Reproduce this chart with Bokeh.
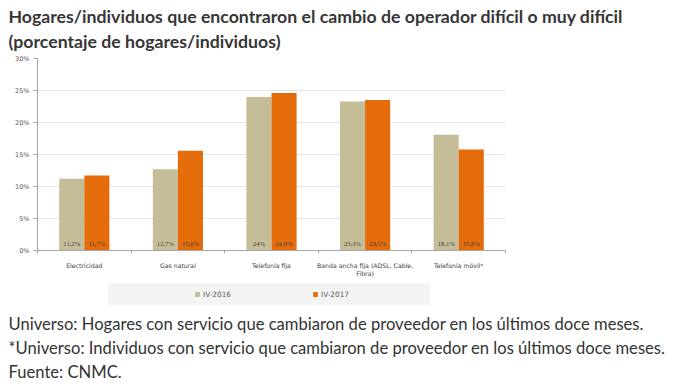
from bokeh.plotting import figure
from bokeh.layouts import column
from bokeh.models import (ColumnDataSource, FixedTicker, LabelSet, Label, Legend,
                          LegendItem, Range1d, CustomJSTickFormatter)
from bokeh.embed import file_html
from bokeh.resources import INLINE

categories = ["Electricidad", "Gas natural", "Telefonía fija",
              "Banda ancha fija (ADSL, Cable,\nFibra)", "Telefonía móvil*"]
series_names = ["IV-2016", "IV-2017"]
values_2016 = [11.2, 12.7, 24.0, 23.3, 18.1]
values_2017 = [11.7, 15.6, 24.6, 23.5, 15.8]
y_ticks = [0, 5, 10, 15, 20, 25, 30]

title_lines = ["Hogares/individuos que encontraron el cambio de operador difícil o muy difícil",
               "(porcentaje de hogares/individuos)"]
footer_lines = ["Universo: Hogares con servicio que cambiaron de proveedor en los últimos doce meses.",
                "*Universo: Individuos con servicio que cambiaron de proveedor en los últimos doce meses.",
                "Fuente: CNMC."]

C16 = "#c4bd97"
C17 = "#e46c0a"
BAR_W = 0.268
W = 688
FRAME_L = 37
FRAME_R = 505
HA, HB, HC = 51, 228, 106   # title strip, chart, legend+footer


def fmt(v):
    s = ("%.1f" % v).replace(".", ",")
    if s.endswith(",0"):
        s = s[:-2]
    return s + "%"


def text_strip(h):
    f = figure(width=W, height=h, output_backend="svg", toolbar_location=None,
               x_range=Range1d(0, W), y_range=Range1d(0, h),
               x_axis_type=None, y_axis_type=None, frame_align=False,
               min_border_left=0, min_border_right=0, min_border_top=0, min_border_bottom=0)
    f.outline_line_color = None
    f.grid.visible = False
    return f


# ---- title strip
pa = text_strip(HA)
for i, t in enumerate(title_lines):
    pa.add_layout(Label(x=8, y=HA - 16 - 25 * i, text=t, text_font="Lato",
                        text_font_style="bold", text_font_size="17.7px",
                        text_color="#363636", text_baseline="middle"))

# ---- chart
n = len(categories)
centers = [i + 0.5 for i in range(n)]
src16 = ColumnDataSource(dict(x=[c - BAR_W / 2 for c in centers], top=values_2016,
                              lbl=[fmt(v) for v in values_2016]))
src17 = ColumnDataSource(dict(x=[c + BAR_W / 2 for c in centers], top=values_2017,
                              lbl=[fmt(v) for v in values_2017]))

p = figure(width=W, height=HB, output_backend="svg", toolbar_location=None,
           x_range=Range1d(0, n), y_range=Range1d(0, 30), frame_align=False,
           min_border_left=FRAME_L, min_border_right=W - FRAME_R,
           min_border_top=58 - HA, min_border_bottom=HA + HB - 250)
p.outline_line_color = None

r16 = p.vbar(x="x", top="top", width=BAR_W, source=src16, fill_color=C16, line_color=None)
r17 = p.vbar(x="x", top="top", width=BAR_W, source=src17, fill_color=C17, line_color=None)

for s in (src16, src17):
    p.add_layout(LabelSet(x="x", y=0, text="lbl", source=s, y_offset=7,
                          text_align="center", text_baseline="middle",
                          text_font="DejaVu Sans", text_font_size="6.6px",
                          text_color="#404040"))

p.yaxis.ticker = FixedTicker(ticks=y_ticks)
p.yaxis.formatter = CustomJSTickFormatter(code="return tick + '%';")
p.yaxis.major_label_text_font = "DejaVu Sans"
p.yaxis.major_label_text_font_size = "6.5px"
p.yaxis.major_label_text_color = "#595959"
p.yaxis.axis_line_color = "#a6a6a6"
p.yaxis.major_tick_line_color = "#a6a6a6"
p.yaxis.major_tick_out = 4
p.yaxis.major_tick_in = 0
p.yaxis.minor_tick_line_color = None
p.yaxis.major_label_standoff = 4

p.xaxis.ticker = FixedTicker(ticks=centers, minor_ticks=list(range(n + 1)))
p.xaxis.major_label_overrides = {c: lab for c, lab in zip(centers, categories)}
p.xaxis.major_label_text_font = "DejaVu Sans"
p.xaxis.major_label_text_font_size = "6.2px"
p.xaxis.major_label_text_color = "#404040"
p.xaxis.axis_line_color = "#a6a6a6"
p.xaxis.major_tick_line_color = None
p.xaxis.major_tick_out = 0
p.xaxis.major_tick_in = 0
p.xaxis.minor_tick_line_color = "#a6a6a6"
p.xaxis.minor_tick_out = 3
p.xaxis.minor_tick_in = 0
p.xaxis.major_label_standoff = 8

p.xgrid.grid_line_color = None
p.ygrid.grid_line_color = "#e6e6e6"
p.ygrid.ticker = FixedTicker(ticks=y_ticks)

# ---- legend + footer strip
pc = text_strip(HC)
top_c = HA + HB
# zero-height proxy bars: only used to give the legend its swatches
l16 = pc.vbar(x=[0], top=[0], bottom=[0], width=0, fill_color=C16, line_color=None)
l17 = pc.vbar(x=[0], top=[0], bottom=[0], width=0, fill_color=C17, line_color=None)
legend = Legend(items=[LegendItem(label=series_names[0], renderers=[l16]),
                       LegendItem(label=series_names[1], renderers=[l17])],
                orientation="horizontal", location=(108, HC - (305 - top_c)),
                title=" ", title_location="left", title_standoff=79,
                title_text_font_size="7px",
                glyph_width=6, glyph_height=6, label_standoff=3, label_width=109,
                label_height=22, spacing=0, padding=0, margin=0,
                label_text_font="DejaVu Sans", label_text_font_size="7.3px",
                label_text_color="#595959",
                background_fill_color="#f3f3f3", background_fill_alpha=1,
                border_line_color=None)
pc.add_layout(legend, "center")
for i, t in enumerate(footer_lines):
    pc.add_layout(Label(x=8, y=HC - (323 - top_c) - 24 * i, text=t, text_font="Lato",
                        text_font_size="16.6px", text_color="#333333",
                        text_baseline="middle"))

layout = column(pa, p, pc, spacing=0)
open("out.html", "w").write(file_html(layout, INLINE))
